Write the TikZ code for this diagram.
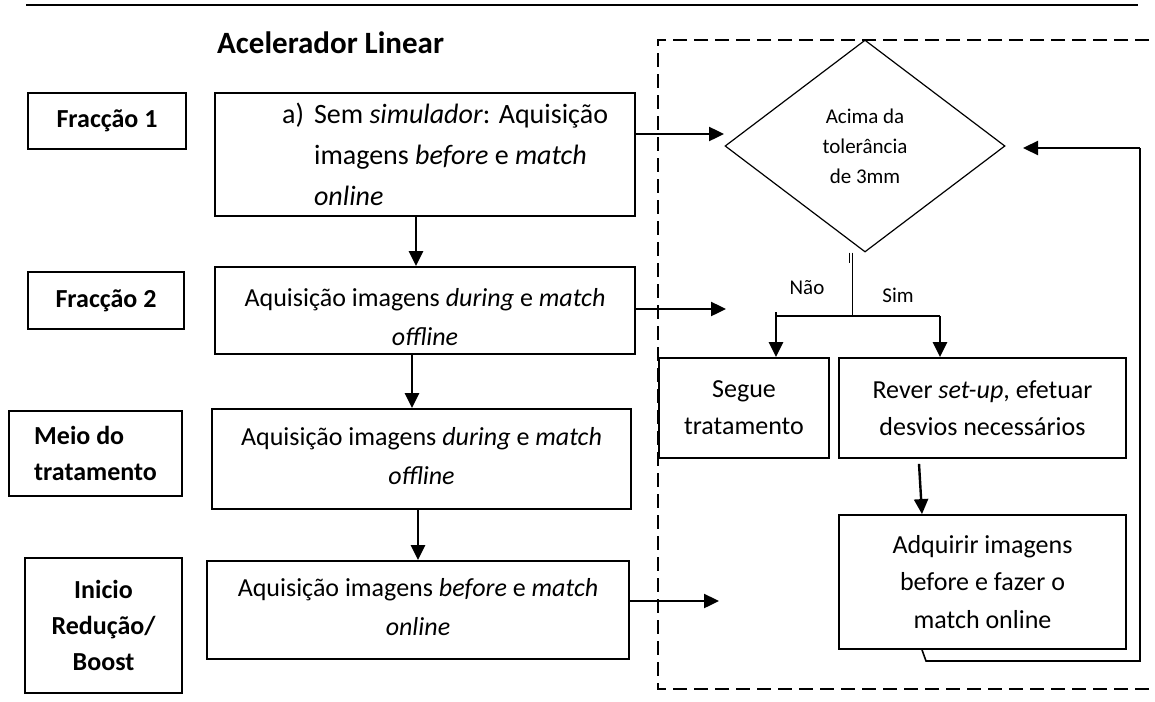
\documentclass[tikz,border=0pt]{standalone}
\usepackage{fontspec}
\setmainfont{Carlito}
\usetikzlibrary{shapes.geometric,arrows.meta}

\begin{document}
\begin{tikzpicture}[x=1pt,y=-1pt,
  box/.style={draw, line width=1.8pt, inner sep=0pt},
  body/.style={font=\fontsize{26}{39}\selectfont, align=center, inner sep=0pt},
  lbl/.style={box, font=\bfseries\fontsize{26}{36}\selectfont, align=center},
  small/.style={font=\fontsize{21}{30}\selectfont, inner sep=0pt},
  arr/.style={line width=2.4pt, -{Triangle[length=15pt,width=14pt]}},
  thinline/.style={line width=1.2pt},
  frame/.style={line width=1.8pt, dash pattern=on 14pt off 7pt},
]
\useasboundingbox (0,0) rectangle (1155,701);

% header rule and title
\draw[line width=2.5pt] (26,5) -- (1138,5);
\node[anchor=base west, font=\bfseries\fontsize{31}{31}\selectfont, inner sep=0pt] (title) at (217,53) {Acelerador Linear};

% dashed frame around the verification loop
\draw[frame] (1170,40) -- (658,40) -- (658,689) -- (1170,689);

% session labels
\node[lbl, minimum width=158pt, minimum height=56pt] (L1) at (107,121) {Fracção 1};
\node[lbl, minimum width=156pt, minimum height=57pt] (L2) at (106,300.5) {Fracção 2};
\node[lbl, minimum width=173pt, minimum height=85pt, align=left] (L3) at (95.5,453.5) {Meio do\\tratamento};
\node[lbl, minimum width=157pt, minimum height=135pt] (L4) at (103.5,625.5) {Inicio\\Redução/\\Boost};

% imaging steps
\node[box, minimum width=420pt, minimum height=123pt] (B1) at (425,154.5) {};
\node[body, anchor=west, font=\fontsize{28}{41}\selectfont] (B1t) at (282,156)
  {\begin{tabular}{@{}l@{\hspace{10pt}}l@{}}a) & Sem \textit{simulador}: Aquisição\\ & imagens \textit{before} e \textit{match}\\ & \textit{online}\end{tabular}};
\node[box, minimum width=420pt, minimum height=87pt] (B2) at (425,310.5) {};
\node[body] (B2t) at (425,317) {Aquisição imagens \textit{during} e \textit{match}\\\textit{offline}};
\node[box, minimum width=419pt, minimum height=100pt] (B3) at (421.5,459) {};
\node[body] (B3t) at (421.5,456) {Aquisição imagens \textit{during} e \textit{match}\\\textit{offline}};
\node[box, minimum width=422pt, minimum height=98pt] (B4) at (418,610) {};
\node[body] (B4t) at (418,607.5) {Aquisição imagens \textit{before} e \textit{match}\\\textit{online}};

% decision and outcomes
\node[draw, diamond, thinline, minimum width=280pt, minimum height=212pt, inner sep=0pt,
      font=\fontsize{21}{30}\selectfont, align=center] (D) at (865,146) {Acima da\\tolerância\\de 3mm};
\node[box, body, minimum width=170pt, minimum height=100pt, font=\fontsize{26}{37}\selectfont] (S) at (744,408) {Segue\\tratamento};
\node[box, body, minimum width=287pt, minimum height=100pt, font=\fontsize{26}{37}\selectfont] (R) at (982.5,408) {Rever \textit{set-up}, efetuar\\desvios necessários};
\node[box, body, minimum width=287pt, minimum height=134pt, font=\fontsize{26}{37.5}\selectfont] (A) at (982.5,582) {Adquirir imagens\\before e fazer o\\match online};
\node[small] (nao) at (807,288) {Não};
\node[small] (sim) at (898,295) {Sim};

% vertical flow between steps
\coordinate (a1) at ([xshift=-9pt]B1.south);
\draw[arr] (a1) -- (a1 |- B2.north);
\coordinate (a2) at ([xshift=-13pt]B2.south);
\draw[arr] (a2) -- (a2 |- B3.north);
\coordinate (a3) at ([xshift=-3.5pt]B3.south);
\draw[arr] (a3) -- (a3 |- B4.north);

% links into the verification loop
\coordinate (e1) at ([yshift=20.5pt]B1.east);
\coordinate (t1) at (724,134);
\draw[arr] (e1) -- (t1);
\coordinate (e2) at ([yshift=1.5pt]B2.east);
\coordinate (t2) at (726,309);
\draw[arr] (e2) -- (t2);
\coordinate (e4) at ([yshift=9pt]B4.east);
\coordinate (t4) at (719,601);
\draw[arr] (e4) -- (t4);

% decision split
\coordinate (s0) at ([xshift=-15.5pt]D.south);
\coordinate (s1) at ([xshift=-12.5pt]D.south);
\draw[thinline] (s0) -- ++(0,10);
\draw[thinline] (s1) -- (s1 |- 0,316) coordinate (s2);
\coordinate (sl) at ([xshift=32pt]S.north |- s2);
\coordinate (sr) at ([xshift=-42.5pt]R.north |- s2);
\draw[thinline] (sl) -- (sr);
\draw[arr] ([yshift=4pt]sl) -- (sl |- S.north);
\draw[arr] (sr) -- (sr |- R.north);

% correction step
\coordinate (r0) at ([xshift=-63.5pt,yshift=-5pt]R.south);
\coordinate (r1) at ([xshift=-60.5pt]A.north);
\draw[arr] (r0) -- (r1);

% return to the decision
\coordinate (q0) at ([xshift=-60.5pt]A.south);
\coordinate (q1) at (926,661);
\coordinate (q2) at (1140,661);
\coordinate (q3) at (1140,148);
\coordinate (q4) at (1023,148);
\draw[line width=1.6pt] (q0) -- (q1) -- (q2) -- (q3);
\draw[arr] (q3) -- (q4);
\end{tikzpicture}
\end{document}
